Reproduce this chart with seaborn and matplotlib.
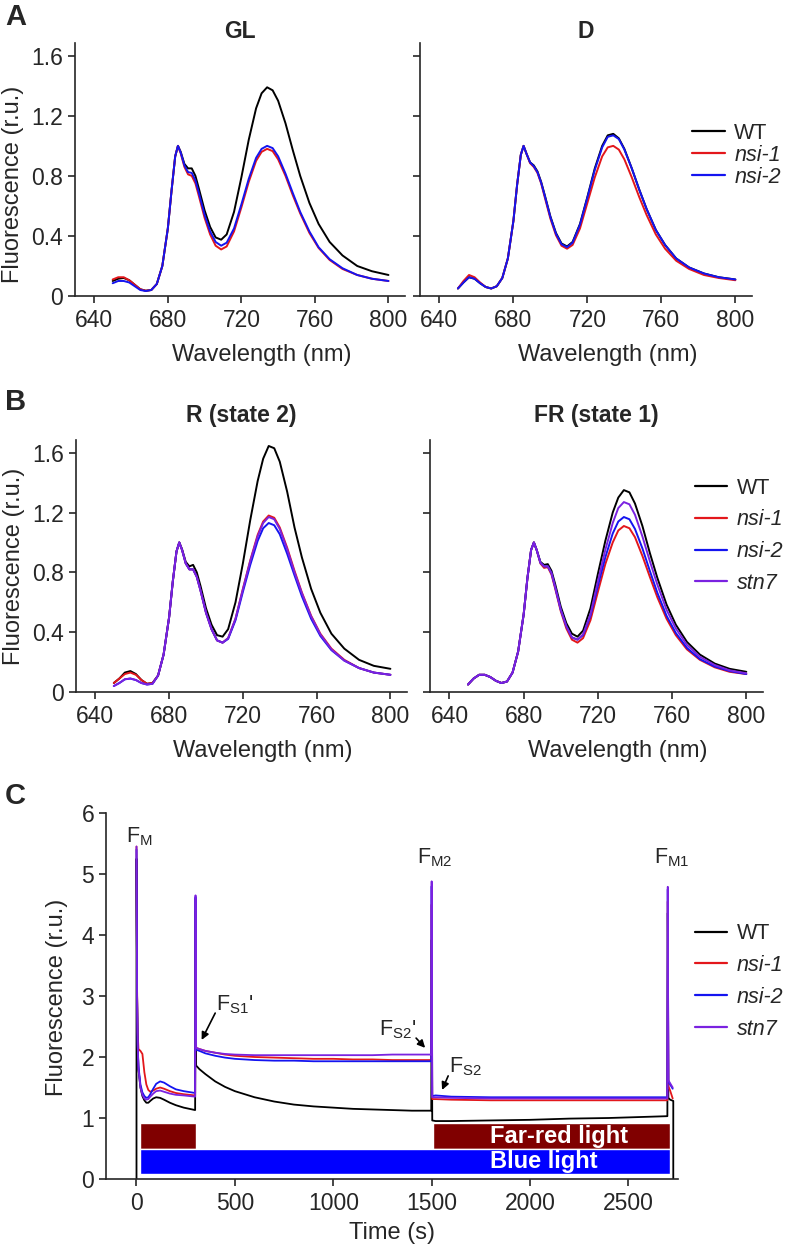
import pandas as pd
import matplotlib
matplotlib.use('Agg')
import matplotlib.pyplot as plt
import seaborn as sns

# ---- spectra (77 K fluorescence, normalised to 685 nm) ----
wavelength = [650, 653, 656, 659, 662, 665, 668, 671, 674, 677, 680, 682, 684, 685.5,
              687, 689, 691, 693, 695, 697, 700, 703, 706, 709, 712, 716, 720, 724,
              728, 731, 734, 737, 740, 744, 748, 752, 757, 762, 768, 775, 783, 791, 800]

gl_wt = [0.10, 0.115, 0.12, 0.105, 0.075, 0.045, 0.035, 0.04, 0.08, 0.20, 0.45, 0.70, 0.93, 1.00,
         0.96, 0.88, 0.85, 0.85, 0.80, 0.71, 0.57, 0.46, 0.39, 0.375, 0.41, 0.56, 0.79, 1.04,
         1.25, 1.35, 1.39, 1.37, 1.30, 1.15, 0.97, 0.80, 0.62, 0.48, 0.36, 0.27, 0.20, 0.165, 0.14]
gl_nsi1 = [0.11, 0.125, 0.125, 0.105, 0.075, 0.045, 0.035, 0.04, 0.08, 0.20, 0.45, 0.70, 0.93, 1.00,
           0.95, 0.86, 0.81, 0.80, 0.75, 0.66, 0.52, 0.41, 0.335, 0.31, 0.33, 0.43, 0.59, 0.76,
           0.90, 0.96, 0.98, 0.965, 0.91, 0.80, 0.67, 0.55, 0.42, 0.32, 0.24, 0.18, 0.14, 0.115, 0.10]
gl_nsi2 = [0.085, 0.10, 0.10, 0.09, 0.065, 0.04, 0.033, 0.04, 0.08, 0.20, 0.45, 0.70, 0.93, 1.00,
           0.955, 0.87, 0.825, 0.82, 0.77, 0.68, 0.54, 0.43, 0.36, 0.335, 0.355, 0.45, 0.61, 0.78,
           0.92, 0.98, 1.00, 0.985, 0.93, 0.815, 0.685, 0.56, 0.43, 0.325, 0.245, 0.185, 0.14, 0.115, 0.10]

d_wt = [0.05, 0.09, 0.125, 0.115, 0.085, 0.06, 0.05, 0.065, 0.12, 0.25, 0.50, 0.74, 0.94, 1.00,
        0.95, 0.89, 0.87, 0.83, 0.76, 0.67, 0.53, 0.42, 0.35, 0.33, 0.36, 0.48, 0.66, 0.85,
        1.00, 1.07, 1.08, 1.05, 0.98, 0.85, 0.71, 0.58, 0.44, 0.34, 0.25, 0.19, 0.15, 0.125, 0.11]
d_nsi1 = [0.05, 0.10, 0.14, 0.125, 0.09, 0.06, 0.05, 0.065, 0.12, 0.25, 0.50, 0.74, 0.94, 1.00,
          0.95, 0.885, 0.86, 0.82, 0.75, 0.655, 0.515, 0.405, 0.335, 0.315, 0.34, 0.45, 0.62, 0.79,
          0.93, 0.99, 1.00, 0.975, 0.91, 0.79, 0.66, 0.54, 0.41, 0.315, 0.235, 0.18, 0.14, 0.12, 0.105]
d_nsi2 = [0.05, 0.09, 0.125, 0.115, 0.085, 0.06, 0.05, 0.065, 0.12, 0.25, 0.50, 0.74, 0.94, 1.00,
          0.95, 0.89, 0.865, 0.825, 0.755, 0.665, 0.525, 0.415, 0.345, 0.325, 0.355, 0.475, 0.655, 0.84,
          0.99, 1.06, 1.07, 1.045, 0.975, 0.85, 0.71, 0.58, 0.44, 0.34, 0.25, 0.19, 0.15, 0.125, 0.11]

r_wt = [0.06, 0.09, 0.13, 0.14, 0.12, 0.08, 0.055, 0.06, 0.11, 0.25, 0.50, 0.74, 0.94, 1.00,
        0.955, 0.87, 0.84, 0.85, 0.80, 0.71, 0.56, 0.45, 0.38, 0.37, 0.42, 0.60, 0.86, 1.15,
        1.41, 1.56, 1.645, 1.63, 1.54, 1.34, 1.10, 0.90, 0.69, 0.53, 0.39, 0.29, 0.215, 0.175, 0.155]
r_nsi1 = [0.06, 0.09, 0.12, 0.13, 0.115, 0.08, 0.055, 0.06, 0.11, 0.25, 0.50, 0.74, 0.94, 1.00,
          0.95, 0.86, 0.82, 0.82, 0.77, 0.68, 0.53, 0.42, 0.345, 0.33, 0.36, 0.49, 0.69, 0.88,
          1.05, 1.14, 1.18, 1.165, 1.10, 0.965, 0.81, 0.665, 0.51, 0.39, 0.29, 0.215, 0.16, 0.13, 0.115]
r_nsi2 = [0.04, 0.06, 0.085, 0.09, 0.08, 0.06, 0.05, 0.055, 0.11, 0.25, 0.50, 0.74, 0.94, 1.00,
          0.95, 0.86, 0.82, 0.82, 0.77, 0.68, 0.53, 0.42, 0.345, 0.33, 0.355, 0.48, 0.67, 0.85,
          1.01, 1.095, 1.13, 1.115, 1.055, 0.925, 0.78, 0.64, 0.49, 0.375, 0.28, 0.21, 0.16, 0.13, 0.115]
r_stn7 = [0.04, 0.06, 0.085, 0.09, 0.08, 0.06, 0.05, 0.055, 0.11, 0.25, 0.50, 0.74, 0.94, 1.00,
          0.95, 0.86, 0.82, 0.82, 0.77, 0.68, 0.53, 0.42, 0.345, 0.33, 0.36, 0.49, 0.685, 0.875,
          1.04, 1.13, 1.17, 1.155, 1.09, 0.955, 0.80, 0.66, 0.505, 0.385, 0.285, 0.21, 0.16, 0.13, 0.115]

fr_wt = [0.05, 0.09, 0.115, 0.115, 0.10, 0.075, 0.06, 0.07, 0.13, 0.27, 0.52, 0.76, 0.95, 1.00,
         0.95, 0.87, 0.85, 0.855, 0.81, 0.72, 0.57, 0.46, 0.39, 0.37, 0.41, 0.56, 0.79, 1.01,
         1.20, 1.30, 1.35, 1.335, 1.26, 1.11, 0.93, 0.765, 0.585, 0.45, 0.335, 0.25, 0.19, 0.155, 0.135]
fr_nsi1 = [0.05, 0.09, 0.115, 0.115, 0.10, 0.075, 0.06, 0.07, 0.13, 0.27, 0.52, 0.76, 0.95, 1.00,
           0.95, 0.86, 0.83, 0.835, 0.785, 0.69, 0.54, 0.425, 0.35, 0.33, 0.36, 0.48, 0.67, 0.855,
           1.00, 1.08, 1.11, 1.095, 1.035, 0.91, 0.77, 0.635, 0.49, 0.38, 0.285, 0.215, 0.165, 0.135, 0.12]
fr_nsi2 = [0.05, 0.09, 0.115, 0.115, 0.10, 0.075, 0.06, 0.07, 0.13, 0.27, 0.52, 0.76, 0.95, 1.00,
           0.95, 0.865, 0.84, 0.84, 0.795, 0.70, 0.55, 0.44, 0.365, 0.35, 0.38, 0.51, 0.71, 0.90,
           1.06, 1.14, 1.17, 1.155, 1.09, 0.96, 0.81, 0.665, 0.51, 0.395, 0.295, 0.22, 0.17, 0.14, 0.12]
fr_stn7 = [0.05, 0.09, 0.115, 0.115, 0.10, 0.075, 0.06, 0.07, 0.13, 0.27, 0.52, 0.76, 0.95, 1.00,
           0.95, 0.865, 0.84, 0.84, 0.795, 0.70, 0.55, 0.44, 0.365, 0.35, 0.385, 0.52, 0.74, 0.95,
           1.13, 1.23, 1.27, 1.255, 1.185, 1.04, 0.875, 0.72, 0.55, 0.425, 0.315, 0.235, 0.18, 0.145, 0.125]

# ---- chlorophyll fluorescence time course (panel C) ----
time_wt = [0, 0, 3, 6, 10, 20, 30, 40, 50, 60, 70, 85, 100, 120, 140, 170, 200, 240, 298, 300,
           303, 320, 350, 400, 450, 500, 600, 700, 800, 900, 1000, 1100, 1200, 1300, 1400, 1498,
           1500, 1503, 1520, 1600, 1800, 2000, 2200, 2400, 2600, 2698, 2700, 2703, 2712, 2728, 2728]
trace_wt = [0, 5.25, 3.0, 2.2, 1.8, 1.5, 1.36, 1.29, 1.25, 1.25, 1.28, 1.32, 1.34, 1.33, 1.3, 1.25,
            1.21, 1.17, 1.13, 4.4, 1.86, 1.8, 1.72, 1.6, 1.51, 1.44, 1.34, 1.27, 1.22, 1.19, 1.17,
            1.15, 1.14, 1.13, 1.12, 1.12, 3.92, 0.96, 0.95, 0.95, 0.96, 0.97, 0.99, 1.0, 1.02, 1.03,
            4.36, 1.33, 1.3, 1.28, 0]
time_mut = [0, 3, 6, 10, 20, 30, 40, 50, 60, 70, 85, 100, 120, 140, 170, 200, 240, 298, 300, 303,
            320, 350, 400, 450, 500, 600, 700, 800, 900, 1000, 1100, 1200, 1300, 1400, 1498, 1500,
            1503, 1520, 1600, 1800, 2000, 2200, 2400, 2600, 2698, 2700, 2703, 2712, 2725]
trace_nsi1 = [5.45, 3.1, 2.4, 2.13, 2.1, 2.05, 1.75, 1.55, 1.46, 1.43, 1.45, 1.48, 1.5, 1.48, 1.44,
              1.41, 1.39, 1.37, 4.6, 2.15, 2.13, 2.1, 2.07, 2.04, 2.02, 2.0, 1.99, 1.98, 1.97, 1.97,
              1.96, 1.96, 1.95, 1.95, 1.95, 4.5, 1.31, 1.31, 1.3, 1.29, 1.29, 1.29, 1.29, 1.29, 1.29,
              4.55, 1.52, 1.45, 1.32]
trace_nsi2 = [5.4, 3.0, 2.2, 1.85, 1.55, 1.42, 1.36, 1.33, 1.34, 1.39, 1.48, 1.56, 1.6, 1.58, 1.52,
              1.47, 1.44, 1.41, 4.62, 2.12, 2.1, 2.06, 2.02, 1.99, 1.97, 1.95, 1.94, 1.94, 1.93, 1.93,
              1.93, 1.93, 1.93, 1.93, 1.93, 4.8, 1.36, 1.37, 1.35, 1.34, 1.34, 1.34, 1.34, 1.34, 1.34,
              4.75, 1.6, 1.55, 1.48]
trace_stn7 = [5.45, 3.0, 2.2, 1.8, 1.5, 1.38, 1.32, 1.3, 1.31, 1.35, 1.4, 1.44, 1.45, 1.43, 1.4,
              1.38, 1.37, 1.35, 4.65, 2.15, 2.13, 2.1, 2.07, 2.05, 2.04, 2.03, 2.03, 2.03, 2.03, 2.03,
              2.03, 2.03, 2.04, 2.04, 2.04, 4.88, 1.34, 1.34, 1.33, 1.32, 1.32, 1.32, 1.32, 1.32, 1.32,
              4.79, 1.62, 1.57, 1.5]

# light regime bars
farred_start = [20, 1508]
farred_end = [300, 2710]
blue_start = [20]
blue_end = [2710]

lines = ['WT', 'nsi-1', 'nsi-2', 'stn7']
colors = {'WT': '#000000', 'nsi-1': '#e3171b', 'nsi-2': '#1414f0', 'stn7': '#7a22e0'}
spec_ticks = [640, 680, 720, 760, 800]
spec_yticks = [0, 0.4, 0.8, 1.2, 1.6]
spec_yticklabels = ['0', '0.4', '0.8', '1.2', '1.6']

sns.set_style('ticks')
plt.rcParams['font.family'] = ['Liberation Sans', 'DejaVu Sans']
plt.rcParams['mathtext.fontset'] = 'custom'
plt.rcParams['mathtext.rm'] = 'Liberation Sans'
plt.rcParams['mathtext.it'] = 'Liberation Sans:italic'
plt.rcParams['axes.linewidth'] = 1.2
plt.rcParams['xtick.major.width'] = 1.2
plt.rcParams['ytick.major.width'] = 1.2
plt.rcParams['xtick.major.size'] = 5
plt.rcParams['ytick.major.size'] = 5

W, H = 790, 1248
fig = plt.figure(figsize=(W / 100, H / 100), dpi=100)


def add_axes_px(x0, y0, x1, y1):
    return fig.add_axes([x0 / W, 1 - y1 / H, (x1 - x0) / W, (y1 - y0) / H])


def long_df(x, series, xname, yname):
    rows = []
    for name, vals in series.items():
        rows.append(pd.DataFrame({xname: x, yname: vals, 'line': name}))
    return pd.concat(rows, ignore_index=True)


def style_legend(ax, anchor, spacing):
    sns.move_legend(ax, 'center left', bbox_to_anchor=anchor, frameon=False, title=None,
                    fontsize=15.5, handlelength=1.5, handletextpad=0.45,
                    labelspacing=spacing, borderpad=0, borderaxespad=0)
    leg = ax.get_legend()
    for h in leg.legend_handles:
        h.set_linewidth(1.6)
    for t in leg.get_texts():
        if t.get_text() != 'WT':
            t.set_fontstyle('italic')


def spectrum_panel(ax, series, title, pad, show_ylabel, legend_anchor=None, spacing=0.3):
    df = long_df(wavelength, series, 'Wavelength', 'Fluorescence')
    order = [n for n in lines if n in series]
    sns.lineplot(data=df, x='Wavelength', y='Fluorescence', hue='line', hue_order=order,
                 palette=colors, linewidth=1.4, ax=ax, legend=legend_anchor is not None)
    ax.set_xlim(629.5, 809)
    ax.set_ylim(0, 1.685)
    ax.set_xticks(spec_ticks)
    ax.set_yticks(spec_yticks)
    ax.set_title(title, fontsize=16.5, fontweight='bold', pad=pad)
    ax.tick_params(axis='both', labelsize=16.5)
    ax.tick_params(axis='x', pad=4.5)
    ax.set_xlabel('Wavelength (nm)', fontsize=17)
    ax.xaxis.set_label_coords(0.565, -0.19)
    ax.xaxis.label.set_va('top')
    if show_ylabel:
        ax.set_yticklabels(spec_yticklabels)
        ax.set_ylabel('Fluorescence (r.u.)', fontsize=17)
    else:
        ax.tick_params(axis='y', labelleft=False)
        ax.set_ylabel('')
    sns.despine(ax=ax)
    if legend_anchor is not None:
        style_legend(ax, legend_anchor, spacing)


ax_gl = add_axes_px(75, 43, 405, 296)
spectrum_panel(ax_gl, {'WT': gl_wt, 'nsi-1': gl_nsi1, 'nsi-2': gl_nsi2}, 'GL', 0, True)
ax_gl.yaxis.set_label_coords(-0.155, 0.44)

ax_d = add_axes_px(420, 43, 752, 296)
spectrum_panel(ax_d, {'WT': d_wt, 'nsi-1': d_nsi1, 'nsi-2': d_nsi2}, 'D', 0, False,
               legend_anchor=(0.82, 0.557), spacing=0.05)

ax_r = add_axes_px(76, 440, 407, 692)
spectrum_panel(ax_r, {'WT': r_wt, 'nsi-1': r_nsi1, 'nsi-2': r_nsi2, 'stn7': r_stn7},
               'R (state 2)', 13, True)
ax_r.yaxis.set_label_coords(-0.154, 0.5)

ax_fr = add_axes_px(430, 440, 763, 692)
spectrum_panel(ax_fr, {'WT': fr_wt, 'nsi-1': fr_nsi1, 'nsi-2': fr_nsi2, 'stn7': fr_stn7},
               'FR (state 1)', 13, False, legend_anchor=(0.796, 0.62), spacing=0.5)

# ---- panel C ----
ax_c = add_axes_px(106, 813, 678, 1179)
df_c = pd.concat([
    pd.DataFrame({'Time': time_wt, 'Fluorescence': trace_wt, 'line': 'WT'}),
    pd.DataFrame({'Time': time_mut, 'Fluorescence': trace_nsi1, 'line': 'nsi-1'}),
    pd.DataFrame({'Time': time_mut, 'Fluorescence': trace_nsi2, 'line': 'nsi-2'}),
    pd.DataFrame({'Time': time_mut, 'Fluorescence': trace_stn7, 'line': 'stn7'}),
], ignore_index=True)
sns.lineplot(data=df_c, x='Time', y='Fluorescence', hue='line', hue_order=lines,
             palette=colors, linewidth=1.3, estimator=None, sort=False, ax=ax_c)

fr_w = [e - s for s, e in zip(farred_start, farred_end)]
bl_w = [e - s for s, e in zip(blue_start, blue_end)]
ax_c.barh([0.705] * len(fr_w), fr_w, left=farred_start, height=0.43, color='#800000', zorder=1)
ax_c.barh([0.285] * len(bl_w), bl_w, left=blue_start, height=0.42, color='#0000ff', zorder=1)
ax_c.text(1795, 0.70, 'Far-red light', color='white', fontsize=17, fontweight='bold',
          ha='left', va='center')
ax_c.text(1795, 0.28, 'Blue light', color='white', fontsize=17, fontweight='bold',
          ha='left', va='center')

ax_c.set_xlim(-155, 2752)
ax_c.set_ylim(0, 6)
ax_c.set_xticks([0, 500, 1000, 1500, 2000, 2500])
ax_c.set_yticks(range(7))
ax_c.tick_params(axis='both', labelsize=16.5)
ax_c.tick_params(axis='x', pad=4.5)
ax_c.set_xlabel('Time (s)', fontsize=17)
ax_c.xaxis.set_label_coords(0.5, -0.117)
ax_c.xaxis.label.set_va('top')
ax_c.set_ylabel('Fluorescence (r.u.)', fontsize=17)
ax_c.yaxis.set_label_coords(-0.066, 0.495)
sns.despine(ax=ax_c)
style_legend(ax_c, (1.03, 0.54), 0.5)

ann = dict(fontsize=15.5, va='baseline', ha='left')
ax_c.text(-54, 5.52, r'$\mathregular{F_{M}}$', **ann)
ax_c.text(406, 2.77, r"$\mathregular{F_{S1}}$'", **ann)
ax_c.text(1234, 2.36, r"$\mathregular{F_{S2}}$'", **ann)
ax_c.text(1589, 1.74, r'$\mathregular{F_{S2}}$', **ann)
ax_c.text(1427, 5.18, r'$\mathregular{F_{M2}}$', **ann)
ax_c.text(2628, 5.18, r'$\mathregular{F_{M1}}$', **ann)
arrow = dict(arrowstyle='-|>', color='black', lw=1.2, mutation_scale=11, shrinkA=0, shrinkB=0)
ax_c.annotate('', xy=(331, 2.28), xytext=(400, 2.72), arrowprops=arrow)
ax_c.annotate('', xy=(1467, 2.15), xytext=(1421, 2.31), arrowprops=arrow)
ax_c.annotate('', xy=(1553, 1.46), xytext=(1584, 1.69), arrowprops=arrow)

for letter, ypx in [('A', 17), ('B', 402), ('C', 796)]:
    fig.text(5 / W, 1 - ypx / H, letter, fontsize=21, fontweight='bold', ha='left', va='center')

fig.savefig('out.png', dpi=100)
